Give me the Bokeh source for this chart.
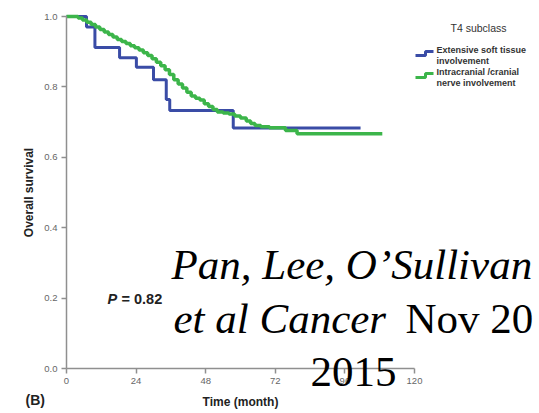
from bokeh.plotting import figure
from bokeh.models import Range1d, FixedTicker, Label, NumeralTickFormatter
from bokeh.embed import file_html
from bokeh.resources import INLINE

# Kaplan-Meier overall survival by T4 subclass
blue_time = [0, 6.9, 9.8, 18.3, 24.1, 30.0, 34.4, 35.6, 57.5, 101.4]
blue_surv = [1.0, 0.970, 0.912, 0.883, 0.856, 0.820, 0.764, 0.733, 0.683, 0.683]

green_time = [0, 4, 5.5, 7, 8.5, 10, 11.5, 13, 14.5, 16, 17.5, 19, 20.5, 22, 23.5,
              25, 26.5, 28, 29.5, 31, 32.5, 34, 35.5, 37, 38.5, 40, 41.5, 43, 44.5,
              46, 47.5, 49, 50.5, 52, 54, 56, 58, 60, 62, 63.5, 65, 67, 70, 75.5,
              79.5, 108.9]
green_surv = [1.0, 0.996, 0.990, 0.984, 0.977, 0.970, 0.963, 0.956, 0.949, 0.942,
              0.935, 0.929, 0.923, 0.917, 0.911, 0.905, 0.897, 0.889, 0.880, 0.870,
              0.860, 0.849, 0.835, 0.820, 0.808, 0.797, 0.785, 0.774, 0.768, 0.763,
              0.752, 0.744, 0.736, 0.729, 0.726, 0.723, 0.717, 0.712, 0.703, 0.696,
              0.690, 0.687, 0.684, 0.676, 0.667, 0.667]

x_ticks = [0, 24, 48, 72, 96, 120]
y_ticks = [0.0, 0.2, 0.4, 0.6, 0.8, 1.0]

group_names = ["Extensive soft tissue\ninvolvement",
               "Intracranial /cranial\nnerve involvement"]
BLUE = "#3a4ca6"
GREEN = "#3cb54a"

# canvas geometry: the axes cross at the origin placed at pixel (66, 368)
W, H = 539, 413
ORIGIN_X, ORIGIN_Y = 66, 368
PX_PER_MONTH = 2.9
PX_PER_UNIT = 352.0

p = figure(width=W, height=H, output_backend="svg", toolbar_location=None,
           x_range=Range1d(-ORIGIN_X / PX_PER_MONTH, (W - ORIGIN_X) / PX_PER_MONTH),
           y_range=Range1d(-(H - ORIGIN_Y) / PX_PER_UNIT, 1 + (ORIGIN_Y - 352) / PX_PER_UNIT),
           min_border=0)
p.background_fill_color = "white"
p.border_fill_color = "white"
p.outline_line_color = None
p.grid.visible = False


# screen pixel -> data helpers for annotation placement
def fx(px):
    return (px - ORIGIN_X) / PX_PER_MONTH


def fy(py):
    return (ORIGIN_Y - py) / PX_PER_UNIT


p.step(blue_time, blue_surv, mode="after", line_color=BLUE, line_width=3)
p.step(green_time, green_surv, mode="after", line_color=GREEN, line_width=3.5)

axis_color = "#8f8f8f"
for ax in (p.xaxis[0], p.yaxis[0]):
    ax.fixed_location = 0
    ax.axis_line_color = axis_color
    ax.axis_line_width = 1.5
    ax.major_tick_line_color = axis_color
    ax.major_tick_line_width = 1.5
    ax.major_tick_out = 5
    ax.major_tick_in = 0
    ax.minor_tick_line_color = None
    ax.major_label_text_font = "Liberation Sans"
    ax.major_label_text_font_size = "9.5px"
    ax.major_label_text_color = "#666666"
    ax.axis_label_text_font = "Liberation Sans"
    ax.axis_label_text_font_style = "bold"
    ax.axis_label_text_font_size = "12px"
    ax.axis_label_text_color = "#222222"

p.xaxis.bounds = (0, 120)
p.yaxis.bounds = (0, 1)
p.xaxis.ticker = FixedTicker(ticks=x_ticks)
p.yaxis.ticker = FixedTicker(ticks=y_ticks)
p.yaxis.formatter = NumeralTickFormatter(format="0.0")
p.xaxis.axis_label = "Time (month)"
p.yaxis.axis_label = "Overall survival"
p.xaxis.major_label_standoff = 4
p.xaxis.axis_label_standoff = 8
p.yaxis.major_label_standoff = 4
p.yaxis.axis_label_standoff = 5

sans = "Liberation Sans"

# legend
p.add_layout(Label(x=fx(478), y=fy(27), text="T4 subclass", text_align="center",
                   text_baseline="middle", text_font=sans, text_font_size="10.5px",
                   text_color="#333333"))
legend_rows = [(49, BLUE), (71, GREEN)]
for (row_y, col), name in zip(legend_rows, group_names):
    first, second = name.split("\n")
    for k, line in enumerate((first, second)):
        p.add_layout(Label(x=fx(436), y=fy(row_y + 11 * k), text=line,
                           text_align="left", text_baseline="middle",
                           text_font=sans, text_font_size="9px",
                           text_font_style="bold", text_color="#333333"))
    icon_x = [fx(415), fx(425), fx(425), fx(433)]
    icon_y = [fy(row_y + 6), fy(row_y + 6), fy(row_y + 2), fy(row_y + 2)]
    p.line(icon_x, icon_y, line_color=col, line_width=3)

# p-value and panel tag
p.add_layout(Label(x=fx(107), y=fy(298), text="P", text_baseline="middle",
                   text_font=sans, text_font_size="14.5px",
                   text_font_style="bold italic", text_color="#222222"))
p.add_layout(Label(x=fx(121), y=fy(298), text="= 0.82", text_baseline="middle",
                   text_font=sans, text_font_size="14.5px",
                   text_font_style="bold", text_color="#222222"))
p.add_layout(Label(x=fx(25), y=fy(399), text="(B)", text_baseline="middle",
                   text_font=sans, text_font_size="14px",
                   text_font_style="bold", text_color="#222222"))

# citation overlay
serif = "Liberation Serif"
cite = [
    (171, 264, "Pan, Lee, O\u2019Sullivan", "italic"),
    (173, 318, "et al Cancer", "italic"),
    (405, 318, "Nov 20", "normal"),
    (310, 371, "2015", "normal"),
]
for cx, cy, txt, style in cite:
    p.add_layout(Label(x=fx(cx), y=fy(cy), text=txt, text_align="left",
                       text_baseline="alphabetic", text_font=serif,
                       text_font_size="43px", text_font_style=style,
                       text_color="#000000"))

open("out.html", "w").write(file_html(p, INLINE))
